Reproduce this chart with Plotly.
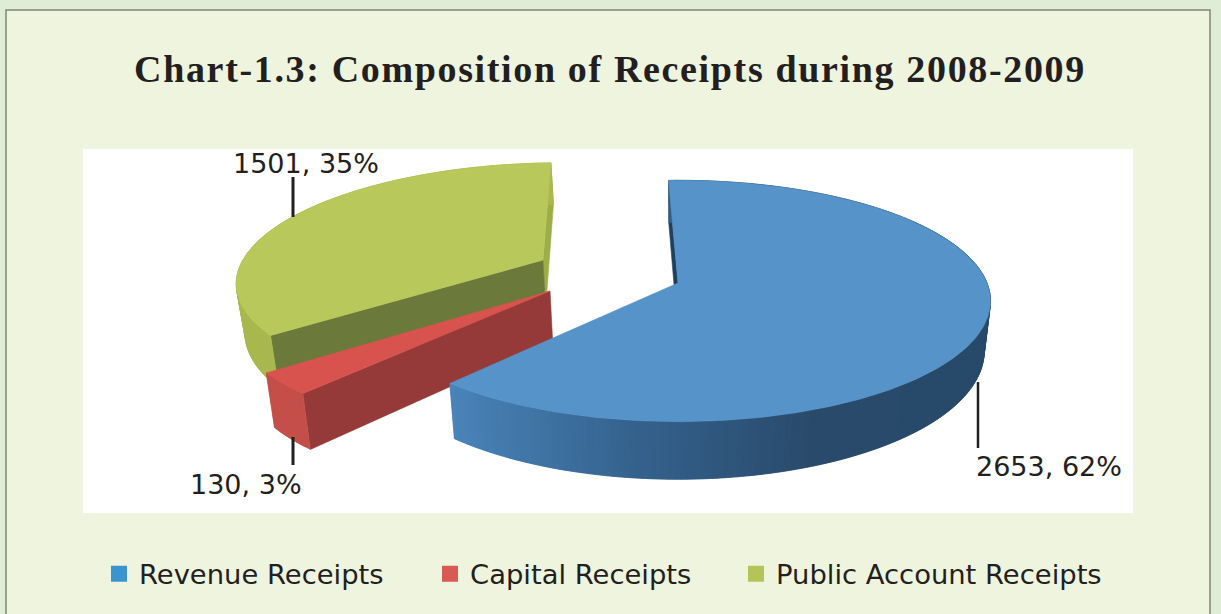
import numpy as np
import plotly.graph_objects as go

# ---- data ----
categories = ["Revenue Receipts", "Capital Receipts", "Public Account Receipts"]
values = [2653, 130, 1501]

# ---- styles ----
top_colors = ["#5593C9", "#D9534E", "#B9C85A"]
legend_colors = ["#3A94CF", "#D95A55", "#B5C457"]
side_stops = [["#4A84B9", "#35638E", "#2A4B6C", "#284A6A"],
              ["#C44E49", "#C44E49"],
              ["#A9B84F", "#A9B84F"]]
radial_start_colors = ["#1F3F5E", "#953A38", "#6B7A3A"]
INK = "#231F20"
PAPER = "#E0EDD6"
PANEL = "#EFF4DE"

# projection of the tilted disc
CX, CY = 678.0, 283.0
A, B, K = 309.0, 118.0, 0.149
DEPTH = 49.0
INSET = 0.02      # lower rim draws slightly narrower (perspective)
START_DEG = -2.0
# displacement of each exploded slice on the disc plane
explode = [(0.0, 0.0), (-0.41, -0.067), (-0.45, 0.200)]


def project(X, Y, drop=0.0):
    w = 1 + K * np.asarray(Y)
    scale = 1 - INSET * (drop / DEPTH)
    return CX + scale * A * np.asarray(X) / w, CY - (B * np.asarray(Y) - drop) / w


def hex2rgb(h):
    return np.array([int(h[i:i + 2], 16) for i in (1, 3, 5)], float)


def ramp(stops, t):
    pos = t * (len(stops) - 1)
    i = min(int(pos), len(stops) - 2)
    f = pos - i
    c = hex2rgb(stops[i]) * (1 - f) + hex2rgb(stops[i + 1]) * f
    return "rgb(%d,%d,%d)" % tuple(c)


fig = go.Figure()


def poly(xs, ys, color, width=0.6):
    fig.add_trace(go.Scatter(x=list(xs) + [xs[0]], y=list(ys) + [ys[0]], mode="lines",
                             fill="toself", fillcolor=color,
                             line=dict(color=color, width=width),
                             hoverinfo="skip", showlegend=False))


total = sum(values)
sweeps = [v / total * 360 for v in values]
starts = list(START_DEG + np.cumsum([0] + sweeps[:-1]))


def slice_geo(i):
    th = np.radians(np.linspace(starts[i], starts[i] + sweeps[i], max(8, int(sweeps[i] * 1.0))))
    dx, dy = explode[i]
    return th, dx + np.sin(th), dy + np.cos(th), dx, dy


def radial(i, idx, color):
    th, X, Y, dx, dy = slice_geo(i)
    x1, y1 = project(dx, dy)
    x2, y2 = project(X[idx], Y[idx])
    x3, y3 = project(X[idx], Y[idx], DEPTH)
    x4, y4 = project(dx, dy, DEPTH)
    poly([float(x1), float(x2), float(x3), float(x4)], [float(y1), float(y2), float(y3), float(y4)], color)


def outer(i):
    th, X, Y, dx, dy = slice_geo(i)
    xt, yt = project(X, Y)
    xb, yb = project(X, Y, DEPTH)
    lo, hi = xt.min(), xt.max()
    n = len(th)
    # each strip overlaps the next one, so no seams show between them
    for j in range(n - 1):
        k = min(j + 2, n - 1)
        t = ((xt[j] + xt[j + 1]) / 2 - lo) / (hi - lo)
        poly([xt[j], xt[j + 1], xt[k], xb[k], xb[j + 1], xb[j]],
             [yt[j], yt[j + 1], yt[k], yb[k], yb[j + 1], yb[j]],
             ramp(side_stops[i], t), width=0.5)


def top(i):
    th, X, Y, dx, dy = slice_geo(i)
    xt, yt = project(X, Y)
    ax, ay = project(dx, dy)
    poly([float(ax)] + list(xt), [float(ay)] + list(yt), top_colors[i])


# painter's order: olive, red, blue
radial(2, -1, "#9DAD48")
radial(2, 0, radial_start_colors[2])
outer(2)
top(2)

radial(1, 0, radial_start_colors[1])
outer(1)
top(1)

radial(0, 0, radial_start_colors[0])
outer(0)
top(0)

# legend entries (one legend box each, so they sit where the reference has them)
legend_x = [99, 430, 736]
for i, name in enumerate(categories):
    key = "legend" if i == 0 else f"legend{i + 1}"
    fig.add_trace(go.Scatter(x=[None], y=[None], mode="markers", name=name,
                             marker=dict(symbol="square", size=19, color=legend_colors[i]),
                             legend=key, hoverinfo="skip"))

# data labels and leader lines
label_pos = [(1049, 466, 978, 382, 448, 2.5), (246, 484, 293, 437, 465, 3), (305.5, 163, 293, 177, 217, 3)]
annotations = []
shapes = [
    dict(type="rect", xref="x", yref="y", x0=6, x1=1210, y0=10, y1=620, fillcolor=PANEL,
         line=dict(color="#7F8678", width=1.5), layer="below"),
    dict(type="rect", xref="x", yref="y", x0=83, x1=1133, y0=149, y1=513, fillcolor="white",
         line=dict(width=0), layer="below"),
]
for i, (lx, ly, sx, sy0, sy1, sw) in enumerate(label_pos):
    pct = round(values[i] / total * 100)
    annotations.append(dict(x=lx, y=ly, xref="x", yref="y", text=f"{values[i]}, {pct}%", showarrow=False,
                            font=dict(family="DejaVu Sans", size=27, color=INK), xanchor="center", yanchor="middle"))
    shapes.append(dict(type="line", xref="x", yref="y", x0=sx, x1=sx, y0=sy0, y1=sy1,
                       line=dict(color=INK, width=sw), layer="above"))

layout_legends = {}
for i in range(3):
    key = "legend" if i == 0 else f"legend{i + 1}"
    layout_legends[key] = dict(x=legend_x[i] / 1221, y=1 - 574 / 614, xanchor="left", yanchor="middle",
                               bgcolor="rgba(0,0,0,0)", borderwidth=0, itemwidth=30,
                               font=dict(family="DejaVu Sans", size=27.4, color=INK))

fig.update_layout(
    width=1221, height=614, margin=dict(l=0, r=0, t=0, b=0),
    paper_bgcolor=PAPER, plot_bgcolor="rgba(0,0,0,0)",
    title=dict(text="<b>Chart-1.3: Composition of Receipts during 2008-2009</b>",
               x=610 / 1221, y=1 - 69 / 614, xanchor="center", yanchor="middle",
               font=dict(family="Liberation Serif", size=38, color=INK)),
    xaxis=dict(range=[0, 1221], visible=False, fixedrange=True),
    yaxis=dict(range=[614, 0], visible=False, fixedrange=True),
    showlegend=True, shapes=shapes, annotations=annotations, **layout_legends,
)

fig.write_html("out.html", config={"displayModeBar": False},
               post_script="document.body.style.margin='0';document.body.style.overflow='hidden';"
                           "document.querySelectorAll('.gtitle').forEach(function(t){t.style.letterSpacing='1.65px';});")
